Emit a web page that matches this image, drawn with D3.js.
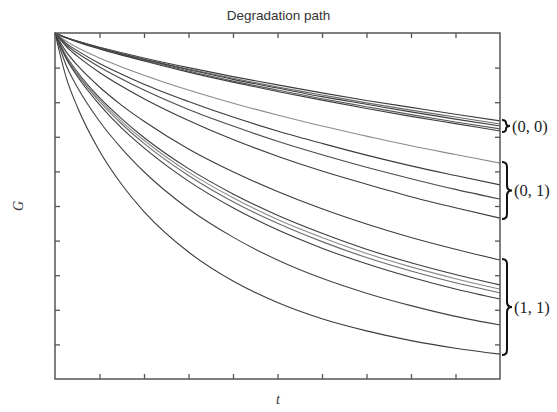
<!DOCTYPE html>
<html>
<head>
<meta charset="utf-8">
<script src="https://cdn.jsdelivr.net/npm/d3@7"></script>
<style>
  html, body { margin: 0; padding: 0; background: #fff; }
  svg { display: block; }
</style>
</head>
<body>
<svg id="chart" width="557" height="412"></svg>
<script>
// ---- data ----
const times = [0, 0.25, 0.5, 1, 1.5, 2, 3, 4, 5, 6, 7, 8, 9, 10];

const group00 = [
  [10, 9.87, 9.77, 9.59, 9.43, 9.28, 9.00, 8.74, 8.50, 8.27, 8.05, 7.85, 7.65, 7.46],
  [10, 9.87, 9.76, 9.58, 9.41, 9.25, 8.96, 8.69, 8.44, 8.21, 7.98, 7.77, 7.57, 7.37],
  [10, 9.86, 9.76, 9.57, 9.39, 9.23, 8.94, 8.66, 8.41, 8.16, 7.94, 7.72, 7.51, 7.31],
  [10, 9.86, 9.75, 9.55, 9.37, 9.21, 8.90, 8.61, 8.35, 8.10, 7.87, 7.64, 7.43, 7.23],
  [10, 9.86, 9.74, 9.54, 9.36, 9.19, 8.87, 8.58, 8.31, 8.06, 7.82, 7.59, 7.38, 7.17]
];
const group01 = [
  [10, 9.76, 9.58, 9.28, 9.02, 8.78, 8.35, 7.97, 7.63, 7.31, 7.02, 6.74, 6.49, 6.24],
  [10, 9.70, 9.49, 9.12, 8.81, 8.52, 8.02, 7.57, 7.17, 6.81, 6.47, 6.16, 5.88, 5.61],
  [10, 9.66, 9.42, 9.02, 8.67, 8.35, 7.79, 7.31, 6.87, 6.48, 6.12, 5.79, 5.48, 5.20],
  [10, 9.61, 9.33, 8.86, 8.46, 8.10, 7.47, 6.92, 6.44, 6.01, 5.63, 5.27, 4.95, 4.65]
];
const group11 = [
  [10, 9.46, 9.07, 8.44, 7.91, 7.45, 6.65, 5.99, 5.42, 4.92, 4.48, 4.09, 3.75, 3.44],
  [10, 9.34, 8.88, 8.13, 7.52, 6.98, 6.08, 5.35, 4.73, 4.21, 3.75, 3.36, 3.02, 2.72],
  [10, 9.32, 8.85, 8.08, 7.44, 6.90, 5.98, 5.24, 4.61, 4.09, 3.63, 3.24, 2.90, 2.60],
  [10, 9.30, 8.81, 8.02, 7.37, 6.81, 5.88, 5.12, 4.50, 3.97, 3.51, 3.12, 2.78, 2.49],
  [10, 9.26, 8.75, 7.93, 7.25, 6.68, 5.72, 4.95, 4.31, 3.78, 3.33, 2.94, 2.60, 2.31],
  [10, 9.07, 8.44, 7.45, 6.66, 5.99, 4.92, 4.10, 3.44, 2.91, 2.48, 2.12, 1.81, 1.56],
  [10, 8.72, 7.87, 6.59, 5.62, 4.84, 3.67, 2.83, 2.21, 1.74, 1.39, 1.11, 0.89, 0.72]
];
const groupLabels = ["(0, 0)", "(0, 1)", "(1, 1)"];
const xTicks = [1, 2, 3, 4, 5, 6, 7, 8, 9];
const yTicks = [1, 2, 3, 4, 5, 6, 7, 8, 9];

// ---- styling ----
const lineColors = {
  g00: ["#3c3c3c", "#6a6a6a", "#3c3c3c", "#5a5a5a", "#3c3c3c"],
  g01: ["#8c8c8c", "#3c3c3c", "#4a4a4a", "#3c3c3c"],
  g11: ["#3c3c3c", "#3c3c3c", "#8a8a8a", "#6a6a6a", "#3c3c3c", "#444", "#3c3c3c"]
};

const svg = d3.select("#chart");
const L = 55, R = 500, T = 33, B = 379;
const x = d3.scaleLinear().domain([0, 10]).range([L, R]);
const y = d3.scaleLinear().domain([0, 10]).range([B, T]);

// title
svg.append("text")
  .attr("x", (L + R) / 2 + 1).attr("y", 20)
  .attr("text-anchor", "middle")
  .attr("font-family", "Liberation Sans, Arial, sans-serif")
  .attr("font-size", 13.5)
  .attr("fill", "#333")
  .text("Degradation path");

// curves
const line = d3.line()
  .x((d, i) => x(times[i]))
  .y(d => y(d))
  .curve(d3.curveMonotoneX);

const plot = svg.append("g");
function drawGroup(data, colors) {
  data.forEach((s, i) => {
    plot.append("path")
      .attr("d", line(s))
      .attr("fill", "none")
      .attr("stroke", colors[i])
      .attr("stroke-width", 1.1);
  });
}
drawGroup(group00, lineColors.g00);
drawGroup(group01, lineColors.g01);
drawGroup(group11, lineColors.g11);

// axes (ticks pointing inward, no labels)
const axisStyle = g => {
  g.select(".domain").remove();
  g.selectAll(".tick line").attr("stroke", "#555").attr("stroke-width", 1.3);
};
svg.append("g").attr("transform", `translate(0,${B})`)
  .call(d3.axisBottom(x).tickValues(xTicks).tickSize(-5).tickFormat(""))
  .call(axisStyle);
svg.append("g").attr("transform", `translate(0,${T})`)
  .call(d3.axisTop(x).tickValues(xTicks).tickSize(-5).tickFormat(""))
  .call(axisStyle);
svg.append("g").attr("transform", `translate(${L},0)`)
  .call(d3.axisLeft(y).tickValues(yTicks).tickSize(-5).tickFormat(""))
  .call(axisStyle);
svg.append("g").attr("transform", `translate(${R},0)`)
  .call(d3.axisRight(y).tickValues(yTicks).tickSize(-5).tickFormat(""))
  .call(axisStyle);

// frame
svg.append("rect")
  .attr("x", L).attr("y", T)
  .attr("width", R - L).attr("height", B - T)
  .attr("fill", "none")
  .attr("stroke", "#555")
  .attr("stroke-width", 1.5);

// axis labels
svg.append("text")
  .attr("transform", `translate(23,206) rotate(-90)`)
  .attr("text-anchor", "middle")
  .attr("font-family", "Liberation Serif, Times New Roman, serif")
  .attr("font-style", "italic")
  .attr("font-size", 14)
  .attr("fill", "#333")
  .text("G");
svg.append("text")
  .attr("x", 278).attr("y", 404)
  .attr("text-anchor", "middle")
  .attr("font-family", "Liberation Serif, Times New Roman, serif")
  .attr("font-style", "italic")
  .attr("font-size", 14)
  .attr("fill", "#333")
  .text("t");

// braces spanning each group's end values
function bracePath(x0, y1, y2, w) {
  const ym = (y1 + y2) / 2;
  const xm = x0 + w / 2;
  const r = Math.min(5, (y2 - y1) / 4);
  return `M${x0},${y1} Q${xm},${y1} ${xm},${y1 + r} L${xm},${ym - r} Q${xm},${ym} ${x0 + w},${ym}` +
         ` Q${xm},${ym} ${xm},${ym + r} L${xm},${y2 - r} Q${xm},${y2} ${x0},${y2}`;
}
const groupsAll = [group00, group01, group11];
groupsAll.forEach((g, i) => {
  const ends = g.map(s => s[s.length - 1]);
  const y1 = y(d3.max(ends)) - 1, y2 = y(d3.min(ends)) + 1;
  const w = i === 0 ? 8 : 10;
  svg.append("path")
    .attr("d", bracePath(R + 2, y1, y2, w))
    .attr("fill", "none")
    .attr("stroke", "#111")
    .attr("stroke-width", 2);
  svg.append("text")
    .attr("x", R + 2 + w + 2).attr("y", (y1 + y2) / 2)
    .attr("dy", "0.35em")
    .attr("font-family", "Liberation Serif, Times New Roman, serif")
    .attr("font-size", 16.5)
    .attr("fill", "#222")
    .text(groupLabels[i]);
});
</script>
</body>
</html>
